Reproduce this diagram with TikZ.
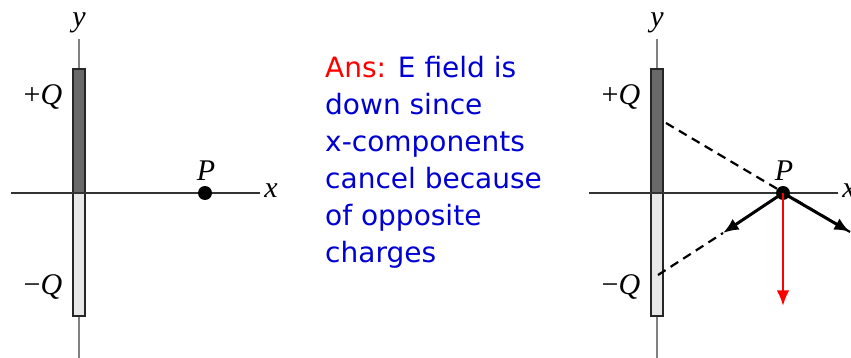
\documentclass[tikz,border=0pt]{standalone}
\usepackage{fontspec}
\newfontfamily\ansfont{DejaVu Sans}
\newfontfamily\labfont{Liberation Serif}
\usetikzlibrary{positioning,arrows.meta}
\definecolor{poscol}{RGB}{105,105,105}
\definecolor{negcol}{RGB}{232,232,232}
\definecolor{axiscol}{RGB}{128,128,128}
\definecolor{anscol}{RGB}{0,0,210}

\begin{document}
\begin{tikzpicture}[x=1pt, y=-1pt,
  every node/.style={font=\labfont\fontsize{30}{32}\selectfont},
  xaxis/.style={line width=1.6pt, black!80},
  yaxis/.style={line width=2.4pt, axiscol},
  rod/.style={draw=black!85, line width=1.8pt},
  dot/.style={circle, fill=black, inner sep=0pt, minimum size=14pt},
  vec/.style={-{Latex[length=5.5mm, width=4.5mm]}, line width=3pt},
  guide/.style={dash pattern=on 9pt off 6pt, line width=2.2pt},
  ans/.style={font=\ansfont\fontsize{28}{37}\selectfont, text=anscol, align=left, anchor=north west, inner sep=0pt}
]
\useasboundingbox (0,0) rectangle (851,358);
\clip (0,0) rectangle (851,358);

% ---------------- the two charged rods ----------------
\foreach \dx/\nm in {0/L, 578/R} {
  \begin{scope}[shift={(\dx,0)}]
    \draw[yaxis] (79,39) -- (79,358);
    \draw[rod, fill=poscol] (73,69) rectangle (85,193);
    \draw[rod, fill=negcol] (73,193) rectangle (85,316);
    \draw[xaxis] (11,193) -- (260,193);
    \node[dot] (dot\nm) at (205,193) {};
    \node[above=2pt of dot\nm, xshift=1pt] (P\nm) {\itshape P};
    \node (x\nm) at (271,191) {\itshape x};
    \node (y\nm) at (79,23) {\itshape y};
    \node (pq\nm) at (43,97) {+\itshape Q};
    \node (nq\nm) at (43,287) {−\itshape Q};
  \end{scope}
}

% ---------------- answer text ----------------
\node[ans] (ans) at (325,56)
  {\textcolor{red}{Ans:} E field is\\down since\\x-components\\cancel because\\of opposite\\charges};

% ---------------- field at P ----------------
\coordinate (topQ) at (666,123);
\coordinate (botQ) at (658,275);
\coordinate (tipL) at (723,233);
\coordinate (tipR) at (850,232);
\coordinate (Enet) at (783,306);

\draw[guide] (topQ) -- (tipR);
\draw[guide] (botQ) -- (tipL);
\draw[vec] (dotR.center) -- (tipL);
\draw[vec] (dotR.center) -- (tipR);
\draw[vec, red, line width=2.6pt] (dotR.center) -- (Enet);

\end{tikzpicture}
\end{document}
